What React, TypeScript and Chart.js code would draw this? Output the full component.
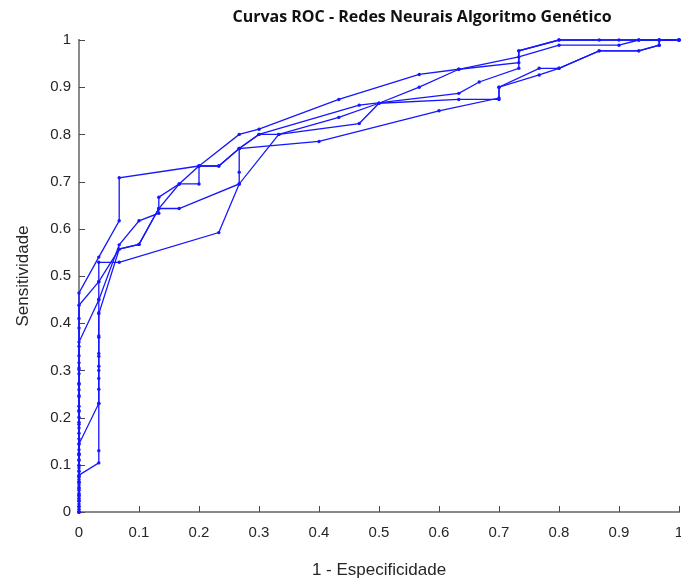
import React, { useEffect, useRef } from 'react';
import { Chart, registerables } from 'chart.js';

Chart.register(...registerables);

const TITLE = 'Curvas ROC - Redes Neurais Algoritmo Genético';
const X_LABEL = '1 - Especificidade';
const Y_LABEL = 'Sensitividade';
const AXIS_TICKS = [0, 0.1, 0.2, 0.3, 0.4, 0.5, 0.6, 0.7, 0.8, 0.9, 1];

// Run 1
const roc1Fpr = [0, 0, 0, 0, 0, 0, 0, 0, 0.033, 0.033, 0.033, 0.033, 0.033, 0.033, 0.033, 0.033, 0.033, 0.033, 0.033, 0.067, 0.233, 0.267, 0.333, 0.467, 0.5, 0.633, 0.7, 0.7, 0.767, 0.8, 0.867, 0.933, 0.967, 0.967, 1];
const roc1Tpr = [0, 0.011, 0.023, 0.034, 0.046, 0.057, 0.069, 0.078, 0.104, 0.13, 0.23, 0.283, 0.309, 0.336, 0.373, 0.422, 0.451, 0.488, 0.529, 0.529, 0.592, 0.695, 0.8, 0.823, 0.866, 0.874, 0.874, 0.9, 0.926, 0.94, 0.977, 0.977, 0.989, 1, 1];

// Run 2
const roc2Fpr = [0, 0, 0, 0, 0, 0, 0, 0, 0, 0, 0, 0, 0.033, 0.033, 0.033, 0.033, 0.033, 0.033, 0.067, 0.1, 0.133, 0.167, 0.267, 0.267, 0.267, 0.4, 0.6, 0.7, 0.7, 0.767, 0.8, 0.867, 0.933, 0.967, 0.967, 1];
const roc2Tpr = [0, 0.012, 0.025, 0.037, 0.05, 0.062, 0.074, 0.087, 0.099, 0.111, 0.124, 0.144, 0.23, 0.26, 0.3, 0.33, 0.37, 0.42, 0.557, 0.567, 0.643, 0.643, 0.695, 0.72, 0.77, 0.785, 0.85, 0.877, 0.9, 0.94, 0.94, 0.977, 0.977, 0.989, 1, 1];

// Run 3
const roc3Fpr = [0, 0, 0, 0, 0, 0, 0, 0, 0, 0, 0, 0, 0, 0, 0, 0, 0.033, 0.067, 0.1, 0.133, 0.133, 0.167, 0.2, 0.2, 0.267, 0.3, 0.433, 0.567, 0.633, 0.733, 0.733, 0.8, 0.867, 0.9, 0.933, 0.967, 1];
const roc3Tpr = [0, 0.017, 0.04, 0.063, 0.086, 0.109, 0.132, 0.155, 0.178, 0.201, 0.224, 0.247, 0.27, 0.293, 0.316, 0.36, 0.449, 0.566, 0.617, 0.633, 0.667, 0.695, 0.695, 0.733, 0.8, 0.811, 0.874, 0.927, 0.938, 0.952, 0.977, 1, 1, 1, 1, 1, 1];

// Run 4
const roc4Fpr = [0, 0, 0, 0, 0, 0, 0, 0, 0, 0, 0, 0, 0, 0, 0.033, 0.067, 0.1, 0.133, 0.167, 0.2, 0.233, 0.267, 0.3, 0.333, 0.433, 0.5, 0.567, 0.633, 0.733, 0.8, 0.9, 0.933, 1];
const roc4Tpr = [0, 0.029, 0.052, 0.075, 0.098, 0.121, 0.144, 0.167, 0.19, 0.213, 0.259, 0.305, 0.351, 0.438, 0.488, 0.557, 0.567, 0.643, 0.695, 0.733, 0.733, 0.77, 0.8, 0.8, 0.836, 0.866, 0.9, 0.938, 0.964, 0.989, 0.989, 1, 1];

// Run 5
const roc5Fpr = [0, 0, 0, 0, 0, 0, 0, 0, 0, 0, 0, 0, 0, 0, 0, 0.033, 0.067, 0.067, 0.2, 0.233, 0.267, 0.3, 0.467, 0.633, 0.667, 0.733, 0.733, 0.8, 1];
const roc5Tpr = [0, 0.006, 0.035, 0.064, 0.093, 0.122, 0.186, 0.215, 0.244, 0.273, 0.302, 0.331, 0.39, 0.41, 0.464, 0.54, 0.617, 0.708, 0.733, 0.733, 0.77, 0.8, 0.862, 0.887, 0.911, 0.94, 0.977, 1, 1];

const RUNS = [
  [roc1Fpr, roc1Tpr],
  [roc2Fpr, roc2Tpr],
  [roc3Fpr, roc3Tpr],
  [roc4Fpr, roc4Tpr],
  [roc5Fpr, roc5Tpr],
];

const CURVE_COLOR = 'rgb(22, 22, 255)';
const AXIS_COLOR = '#8a8a8a';
const TEXT_COLOR = '#262626';
const TICK_FONT = 'Liberation Sans';

// Tick marks that point into the plot area, like a MATLAB axes box.
const inwardTicks = {
  id: 'inwardTicks',
  beforeDatasetsDraw(chart: any) {
    const { ctx, chartArea, scales } = chart;
    const xs = scales.x;
    const ys = scales.y;
    ctx.save();
    ctx.strokeStyle = '#4a4a4a';
    ctx.lineWidth = 1;
    for (const v of AXIS_TICKS) {
      const px = Math.round(xs.getPixelForValue(v)) + 0.5;
      ctx.beginPath();
      ctx.moveTo(px, chartArea.bottom);
      ctx.lineTo(px, chartArea.bottom - 6);
      ctx.stroke();
      const py = Math.round(ys.getPixelForValue(v)) + 0.5;
      ctx.beginPath();
      ctx.moveTo(chartArea.left, py);
      ctx.lineTo(chartArea.left + 6, py);
      ctx.stroke();
    }
    ctx.restore();
  },
};

// Bold heading above the plot.
const heading = {
  id: 'heading',
  afterDraw(chart: any) {
    const { ctx, chartArea } = chart;
    ctx.save();
    ctx.font = 'bold 16px "Open Sans"';
    ctx.fillStyle = '#111111';
    ctx.textAlign = 'center';
    ctx.textBaseline = 'middle';
    ctx.fillText(TITLE, (chartArea.left + chartArea.right) / 2 + 43, 17);
    ctx.restore();
  },
};

const fmt = (v: number) => String(Math.round(v * 10) / 10);

export default function App() {
  const canvasRef = useRef<HTMLCanvasElement | null>(null);

  useEffect(() => {
    if (!canvasRef.current) return;
    const chart = new Chart(canvasRef.current, {
      type: 'scatter',
      data: {
        datasets: RUNS.map(([fpr, tpr], i) => ({
          label: `Rede ${i + 1}`,
          data: fpr.map((x, k) => ({ x, y: tpr[k] })),
          showLine: true,
          borderColor: CURVE_COLOR,
          backgroundColor: CURVE_COLOR,
          borderWidth: 1.3,
          pointRadius: 1.7,
          pointBorderWidth: 0,
          pointHoverRadius: 1.7,
          clip: false as any,
        })),
      },
      plugins: [inwardTicks, heading],
      options: {
        responsive: false,
        animation: false,
        events: [],
        layout: { padding: { top: 40, right: 2, left: 0, bottom: 0 } },
        plugins: {
          legend: { display: false },
          title: { display: false },
          tooltip: { enabled: false },
        },
        scales: {
          x: {
            type: 'linear',
            min: 0,
            max: 1,
            afterFit: (s: any) => {
              s.height = 74;
              s.paddingLeft = 0;
              s.paddingRight = 0;
            },
            afterBuildTicks: (s: any) => {
              s.ticks = AXIS_TICKS.map((value) => ({ value }));
            },
            ticks: {
              callback: (v: any) => fmt(Number(v)),
              color: TEXT_COLOR,
              font: { family: TICK_FONT, size: 15 },
              padding: 12,
              maxRotation: 0,
              autoSkip: false,
            },
            grid: { display: true, drawOnChartArea: false, drawTicks: false },
            border: { display: true, color: AXIS_COLOR, width: 2 },
            title: {
              display: true,
              text: X_LABEL,
              color: TEXT_COLOR,
              font: { family: TICK_FONT, size: 17 },
              padding: { top: 0, bottom: 5 },
            },
          },
          y: {
            type: 'linear',
            min: 0,
            max: 1,
            afterFit: (s: any) => {
              s.width = 79;
              s.paddingTop = 0;
              s.paddingBottom = 0;
            },
            afterBuildTicks: (s: any) => {
              s.ticks = AXIS_TICKS.map((value) => ({ value }));
            },
            ticks: {
              callback: (v: any) => fmt(Number(v)),
              color: TEXT_COLOR,
              font: { family: TICK_FONT, size: 15 },
              padding: 8,
              autoSkip: false,
            },
            grid: { display: true, drawOnChartArea: false, drawTicks: false },
            border: { display: true, color: AXIS_COLOR, width: 2 },
            title: {
              display: true,
              text: Y_LABEL,
              color: TEXT_COLOR,
              font: { family: TICK_FONT, size: 17 },
              padding: { top: 13, bottom: 0 },
            },
          },
        },
      },
    });
    return () => chart.destroy();
  }, []);

  return (
    <div style={{ position: 'fixed', left: 0, top: 0, width: 681, height: 586, background: '#ffffff' }}>
      <canvas ref={canvasRef} width={681} height={586} style={{ display: 'block' }} />
    </div>
  );
}
